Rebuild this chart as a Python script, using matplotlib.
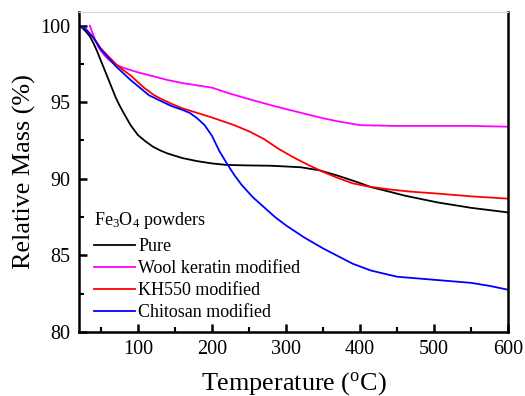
import matplotlib
matplotlib.use("Agg")
import matplotlib.pyplot as plt
from matplotlib.ticker import MultipleLocator

plt.rcParams['font.family'] = ['Liberation Serif', 'DejaVu Serif']
plt.rcParams['mathtext.fontset'] = 'custom'
plt.rcParams['mathtext.rm'] = 'Liberation Serif'
plt.rcParams['mathtext.it'] = 'Liberation Serif:italic'

pure_T = [20, 25, 30, 35, 40, 45, 50, 55, 60, 65, 70, 75, 80, 90, 100, 110, 120, 130, 140, 150, 160, 180,
          200, 220, 250, 280, 320, 345, 370, 395, 415, 440, 460, 480, 505, 550, 600]
pure_M = [100, 99.85, 99.6, 99.3, 98.85, 98.3, 97.7, 97.1, 96.5, 95.9, 95.3, 94.8, 94.35, 93.5, 92.85,
          92.45, 92.1, 91.85, 91.65, 91.5, 91.35, 91.15, 91.0, 90.9, 90.87, 90.85, 90.75, 90.55, 90.2,
          89.8, 89.45, 89.15, 88.9, 88.7, 88.45, 88.1, 87.8]

wool_T = [35, 38, 42, 46, 50, 55, 60, 65, 70, 80, 90, 100, 120, 140, 160, 180, 200, 225, 250, 280, 300,
          325, 350, 370, 400, 450, 500, 550, 600]
wool_M = [100, 99.6, 99.1, 98.65, 98.35, 98.05, 97.8, 97.6, 97.45, 97.25, 97.1, 96.95, 96.7, 96.45,
          96.25, 96.1, 95.95, 95.55, 95.2, 94.8, 94.55, 94.25, 93.95, 93.75, 93.5, 93.45, 93.45, 93.45,
          93.4]

kh_T = [20, 30, 40, 50, 60, 70, 80, 90, 100, 108, 115, 122, 130, 145, 160, 180, 200, 215, 230, 250, 270,
        290, 310, 330, 350, 370, 390, 410, 440, 470, 500, 550, 600]
kh_M = [100, 99.75, 99.2, 98.5, 98.0, 97.5, 97.1, 96.75, 96.3, 95.95, 95.7, 95.45, 95.25, 94.9, 94.6,
        94.3, 94.0, 93.75, 93.5, 93.1, 92.6, 91.95, 91.4, 90.9, 90.45, 90.05, 89.7, 89.5, 89.3, 89.15,
        89.05, 88.85, 88.7]

chi_T = [20, 30, 40, 50, 60, 70, 80, 90, 100, 115, 130, 145, 160, 170, 180, 190, 200, 210, 220, 230, 240,
         255, 270, 285, 300, 325, 350, 370, 390, 415, 450, 500, 550, 575, 600]
chi_M = [100, 99.75, 99.2, 98.45, 97.9, 97.35, 96.9, 96.45, 96.05, 95.45, 95.1, 94.75, 94.5, 94.3, 93.95,
         93.5, 92.8, 91.8, 91.0, 90.25, 89.6, 88.8, 88.15, 87.5, 86.95, 86.15, 85.45, 84.95, 84.45, 84.0,
         83.6, 83.4, 83.2, 83.0, 82.75]

labels = ['Pure', 'Wool keratin modified', 'KH550 modified', 'Chitosan modified']
colors = ['black', '#ff00ff', 'red', 'blue']
legend_title = r'Fe$_3$O$_4$ powders'

fig = plt.figure(figsize=(5.25, 3.96), dpi=100)
ax = fig.add_axes([0.150, 0.162, 0.818, 0.808])

series = [(pure_T, pure_M), (wool_T, wool_M), (kh_T, kh_M), (chi_T, chi_M)]
for (t, m), lab, c in zip(series, labels, colors):
    ax.plot(t, m, color=c, lw=1.3, label=lab)

ax.set_xlim(20, 600)
ax.set_ylim(80, 100.9)
ax.xaxis.set_major_locator(MultipleLocator(100))
ax.xaxis.set_minor_locator(MultipleLocator(50))
ax.yaxis.set_major_locator(MultipleLocator(5))
ax.yaxis.set_minor_locator(MultipleLocator(2.5))
ax.tick_params(which='both', direction='in', labelsize=14.5, top=False, right=False)
ax.tick_params(which='major', length=6, width=1.8, pad=6)
ax.tick_params(which='minor', length=3.5, width=1.5)

for s in ['left', 'bottom', 'right']:
    ax.spines[s].set_linewidth(1.8)
    ax.spines[s].set_color('black')
ax.spines['top'].set_linewidth(0.8)
ax.spines['top'].set_color('#d8d8d8')

ax.set_xlabel(r'Temperature ($^{\rm o}$C)', fontsize=18.8, labelpad=8)
ax.set_ylabel('Relative Mass (%)', fontsize=18.8, labelpad=3)

leg = ax.legend(loc='lower left', bbox_to_anchor=(0.010, 0.0), frameon=False, fontsize=13,
                handlelength=2.3, handletextpad=0.15, labelspacing=0.28, borderaxespad=0.2)
ax.text(0.035, 0.348, legend_title, transform=ax.transAxes, fontsize=13, ha='left', va='center')

fig.savefig('out.png', dpi=100)
